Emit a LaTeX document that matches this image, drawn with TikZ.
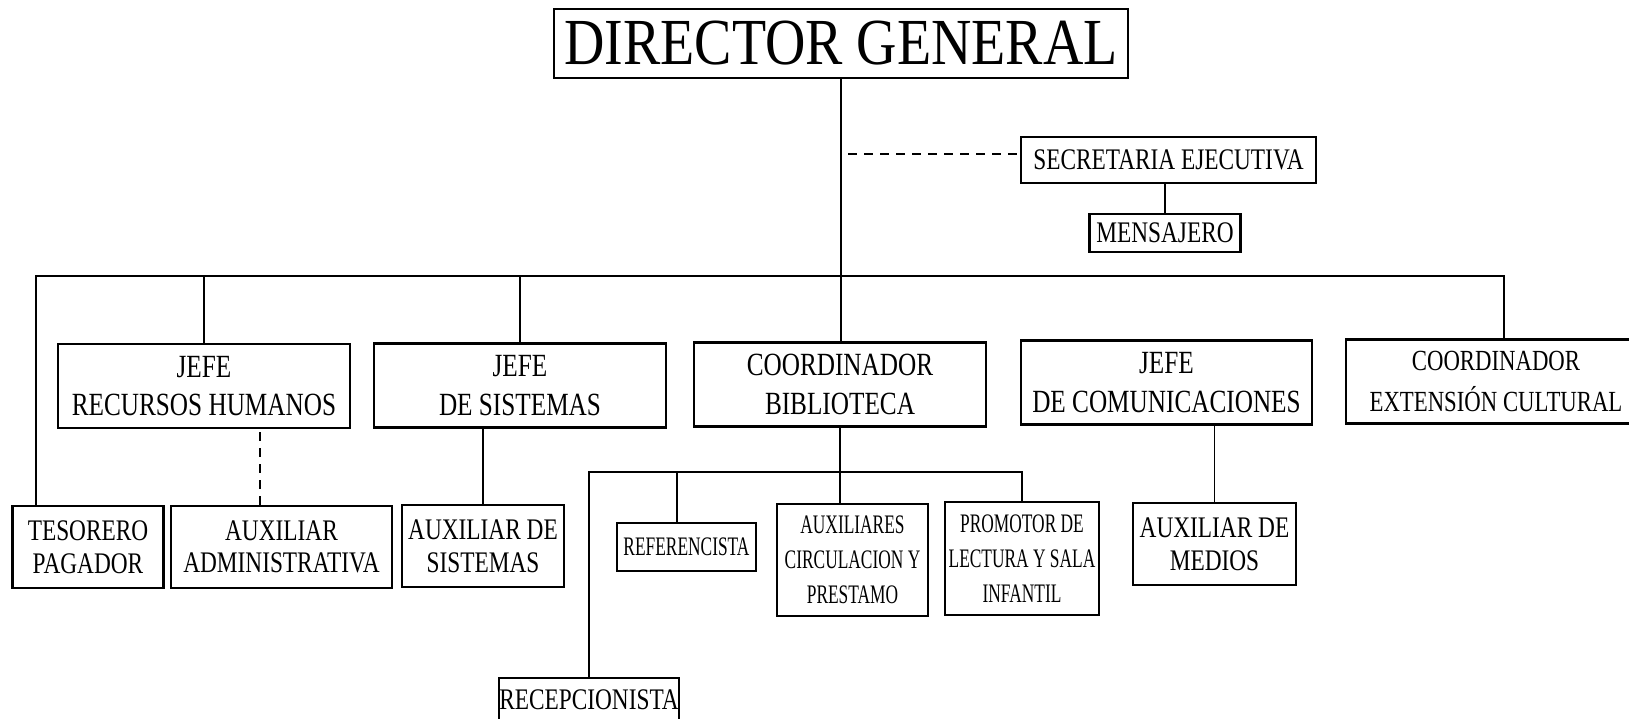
\documentclass[tikz,border=0pt]{standalone}
\usepackage{fontspec}
\usepackage{tikz}
\newfontfamily\orgwide[FakeStretch=0.85]{Liberation Serif}
\newfontfamily\orgfont[FakeStretch=0.78]{Liberation Serif}
\newfontfamily\orgnarrow[FakeStretch=0.65]{Liberation Serif}

\tikzset{
  box/.style={draw, line width=0.6pt, inner sep=0pt, align=center},
  topbox/.style={box, minimum width=5.73cm, minimum height=0.69cm, font=\orgwide\fontsize{18.7}{20}\selectfont},
  headbox/.style={box, minimum width=2.91cm, minimum height=0.84cm, font=\orgfont\fontsize{9.2}{11}\selectfont},
  staffbox/.style={box, minimum height=0.82cm, font=\orgfont\fontsize{8.5}{9.3}\selectfont},
  libbox/.style={box, font=\orgnarrow\fontsize{7.6}{10}\selectfont},
  link/.style={line width=0.45pt},
  dashlink/.style={line width=0.45pt, dash pattern=on 0.09cm off 0.07cm}
}

\begin{document}
\begin{tikzpicture}[x=0.01cm, y=-0.01cm]
        \useasboundingbox (0,0) rectangle (1629,719);
        % director and secretary
        \node (dir) [topbox] at (841,43.5) {DIRECTOR GENERAL};
        \node (sec) [staffbox, minimum width=2.95cm, minimum height=0.46cm] at (1168.5,160) {SECRETARIA EJECUTIVA};
        \node (msj) [staffbox, minimum width=1.51cm, minimum height=0.38cm] at (1165,233) {MENSAJERO};
        % heads
        \node (rrhh) [headbox] at (204,386) {JEFE\\RECURSOS HUMANOS};
        \node (sis) [headbox] at (520,385.5) {JEFE\\DE SISTEMAS};
        \node (bib) [headbox] at (840,384.5) {COORDINADOR\\BIBLIOTECA};
        \node (com) [headbox] at (1166.5,382.5) {JEFE\\DE COMUNICACIONES};
        \node (ext) [headbox, minimum width=3cm, font=\orgfont\fontsize{8.3}{11.4}\selectfont] at (1496,381.5) {COORDINADOR\\EXTENSIÓN CULTURAL};
        % staff
        \node (tes) [staffbox, minimum width=1.51cm] at (88,547) {TESORERO\\PAGADOR};
        \node (adm) [staffbox, minimum width=2.21cm] at (281.5,547) {AUXILIAR\\ADMINISTRATIVA};
        \node (auxs) [staffbox, minimum width=1.62cm] at (483,546) {AUXILIAR DE\\SISTEMAS};
        \node (med) [staffbox, minimum width=1.63cm] at (1214.5,544) {AUXILIAR DE\\MEDIOS};
        \node (rec) [staffbox, minimum width=1.78cm, minimum height=0.44cm] at (589,700) {RECEPCIONISTA};
        % library staff
        \node (ref) [libbox, minimum width=1.39cm, minimum height=0.48cm] at (686.5,547) {REFERENCISTA};
        \node (circ) [libbox, minimum width=1.51cm, minimum height=1.12cm] at (852.5,560) {AUXILIARES\\CIRCULACION Y\\PRESTAMO};
        \node (prom) [libbox, minimum width=1.54cm, minimum height=1.13cm] at (1022,558.5) {PROMOTOR DE\\LECTURA Y SALA\\INFANTIL};
        % bus lines
        \coordinate (bus) at (840,276);
        \coordinate (subbus) at (840,472);
        \coordinate (dashstart) at (848,154);
        \draw [link] (dir.south) -- (dir.south |- bib.north);
        \draw [link] ([xshift=-0.52cm]tes.north) |- (bus) -| ([xshift=0.08cm]ext.north);
        \draw [link] (rrhh.north) -- (rrhh.north |- bus);
        \draw [link] (sis.north) -- (sis.north |- bus);
        \draw [dashlink] (dashstart) -- (dashstart -| sec.west);
        \draw [link] (sec.south -| msj.north) -- (msj.north);
        % under the heads
        \draw [dashlink] ([xshift=-0.215cm]adm.north) -- ([xshift=-0.215cm]adm.north |- rrhh.south);
        \draw [link] (auxs.north) -- (auxs.north |- sis.south);
        \draw [link] (med.north) -- (med.north |- com.south);
        \draw [link] (bib.south) -- (bib.south |- circ.north);
        \draw [link] (rec.north) |- (subbus) -| (prom.north);
        \draw [link] ([xshift=-0.095cm]ref.north) -- ([xshift=-0.095cm]ref.north |- subbus);
    \end{tikzpicture}
\end{document}
